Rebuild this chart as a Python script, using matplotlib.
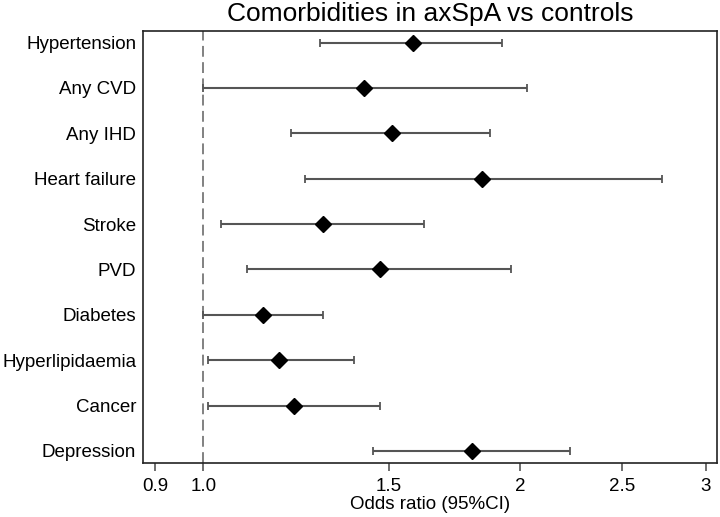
import numpy as np
import matplotlib.pyplot as plt

plt.rcParams['font.family'] = ['Liberation Sans', 'DejaVu Sans']

# comorbidities, top to bottom
labels = ['Hypertension', 'Any CVD', 'Any IHD', 'Heart failure', 'Stroke',
          'PVD', 'Diabetes', 'Hyperlipidaemia', 'Cancer', 'Depression']
odds_ratio = [1.58, 1.42, 1.51, 1.84, 1.30, 1.47, 1.14, 1.18, 1.22, 1.80]
ci_low = [1.29, 1.00, 1.21, 1.25, 1.04, 1.10, 1.00, 1.01, 1.01, 1.45]
ci_high = [1.92, 2.03, 1.87, 2.73, 1.62, 1.96, 1.30, 1.39, 1.47, 2.23]

xticks = [0.9, 1.0, 1.5, 2, 2.5, 3]
xtick_labels = ['0.9', '1.0', '1.5', '2', '2.5', '3']

fig = plt.figure(figsize=(7.2, 5.17), dpi=100)
ax = fig.add_axes([0.199, 0.105, 0.7973, 0.8356])

ypos = np.arange(len(labels))[::-1] + 1
or_arr = np.array(odds_ratio)
err = [or_arr - np.array(ci_low), np.array(ci_high) - or_arr]

# reference line at OR = 1
ax.axvline(1.0, color='#777777', linestyle=(0, (6, 3)), linewidth=1.3, zorder=1)

ax.errorbar(odds_ratio, ypos, xerr=err, fmt='none', ecolor='#555555',
            elinewidth=1.5, capsize=3, capthick=1.3, zorder=2)
ax.plot(odds_ratio, ypos, 'D', color='black', markersize=8, zorder=3)

ax.set_xscale('log')
ax.set_xlim(0.8766, 3.078)
ax.set_ylim(0.74, 10.26)
ax.set_xticks(xticks)
ax.set_xticklabels(xtick_labels)
ax.xaxis.set_minor_locator(plt.NullLocator())
ax.set_yticks(ypos)
ax.set_yticklabels(labels)

ax.tick_params(axis='x', direction='out', length=6, width=1.2, color='#555555',
               labelsize=13.5, pad=5)
ax.tick_params(axis='y', length=0, labelsize=13.5, pad=5)

for s in ax.spines.values():
    s.set_linewidth(1.2)
    s.set_color('#222222')

ax.set_xlabel('Odds ratio (95%CI)', fontsize=13.5, labelpad=1)
ax.set_title('Comorbidities in axSpA vs controls', fontsize=19, pad=7)

fig.savefig('out.png', dpi=100)
